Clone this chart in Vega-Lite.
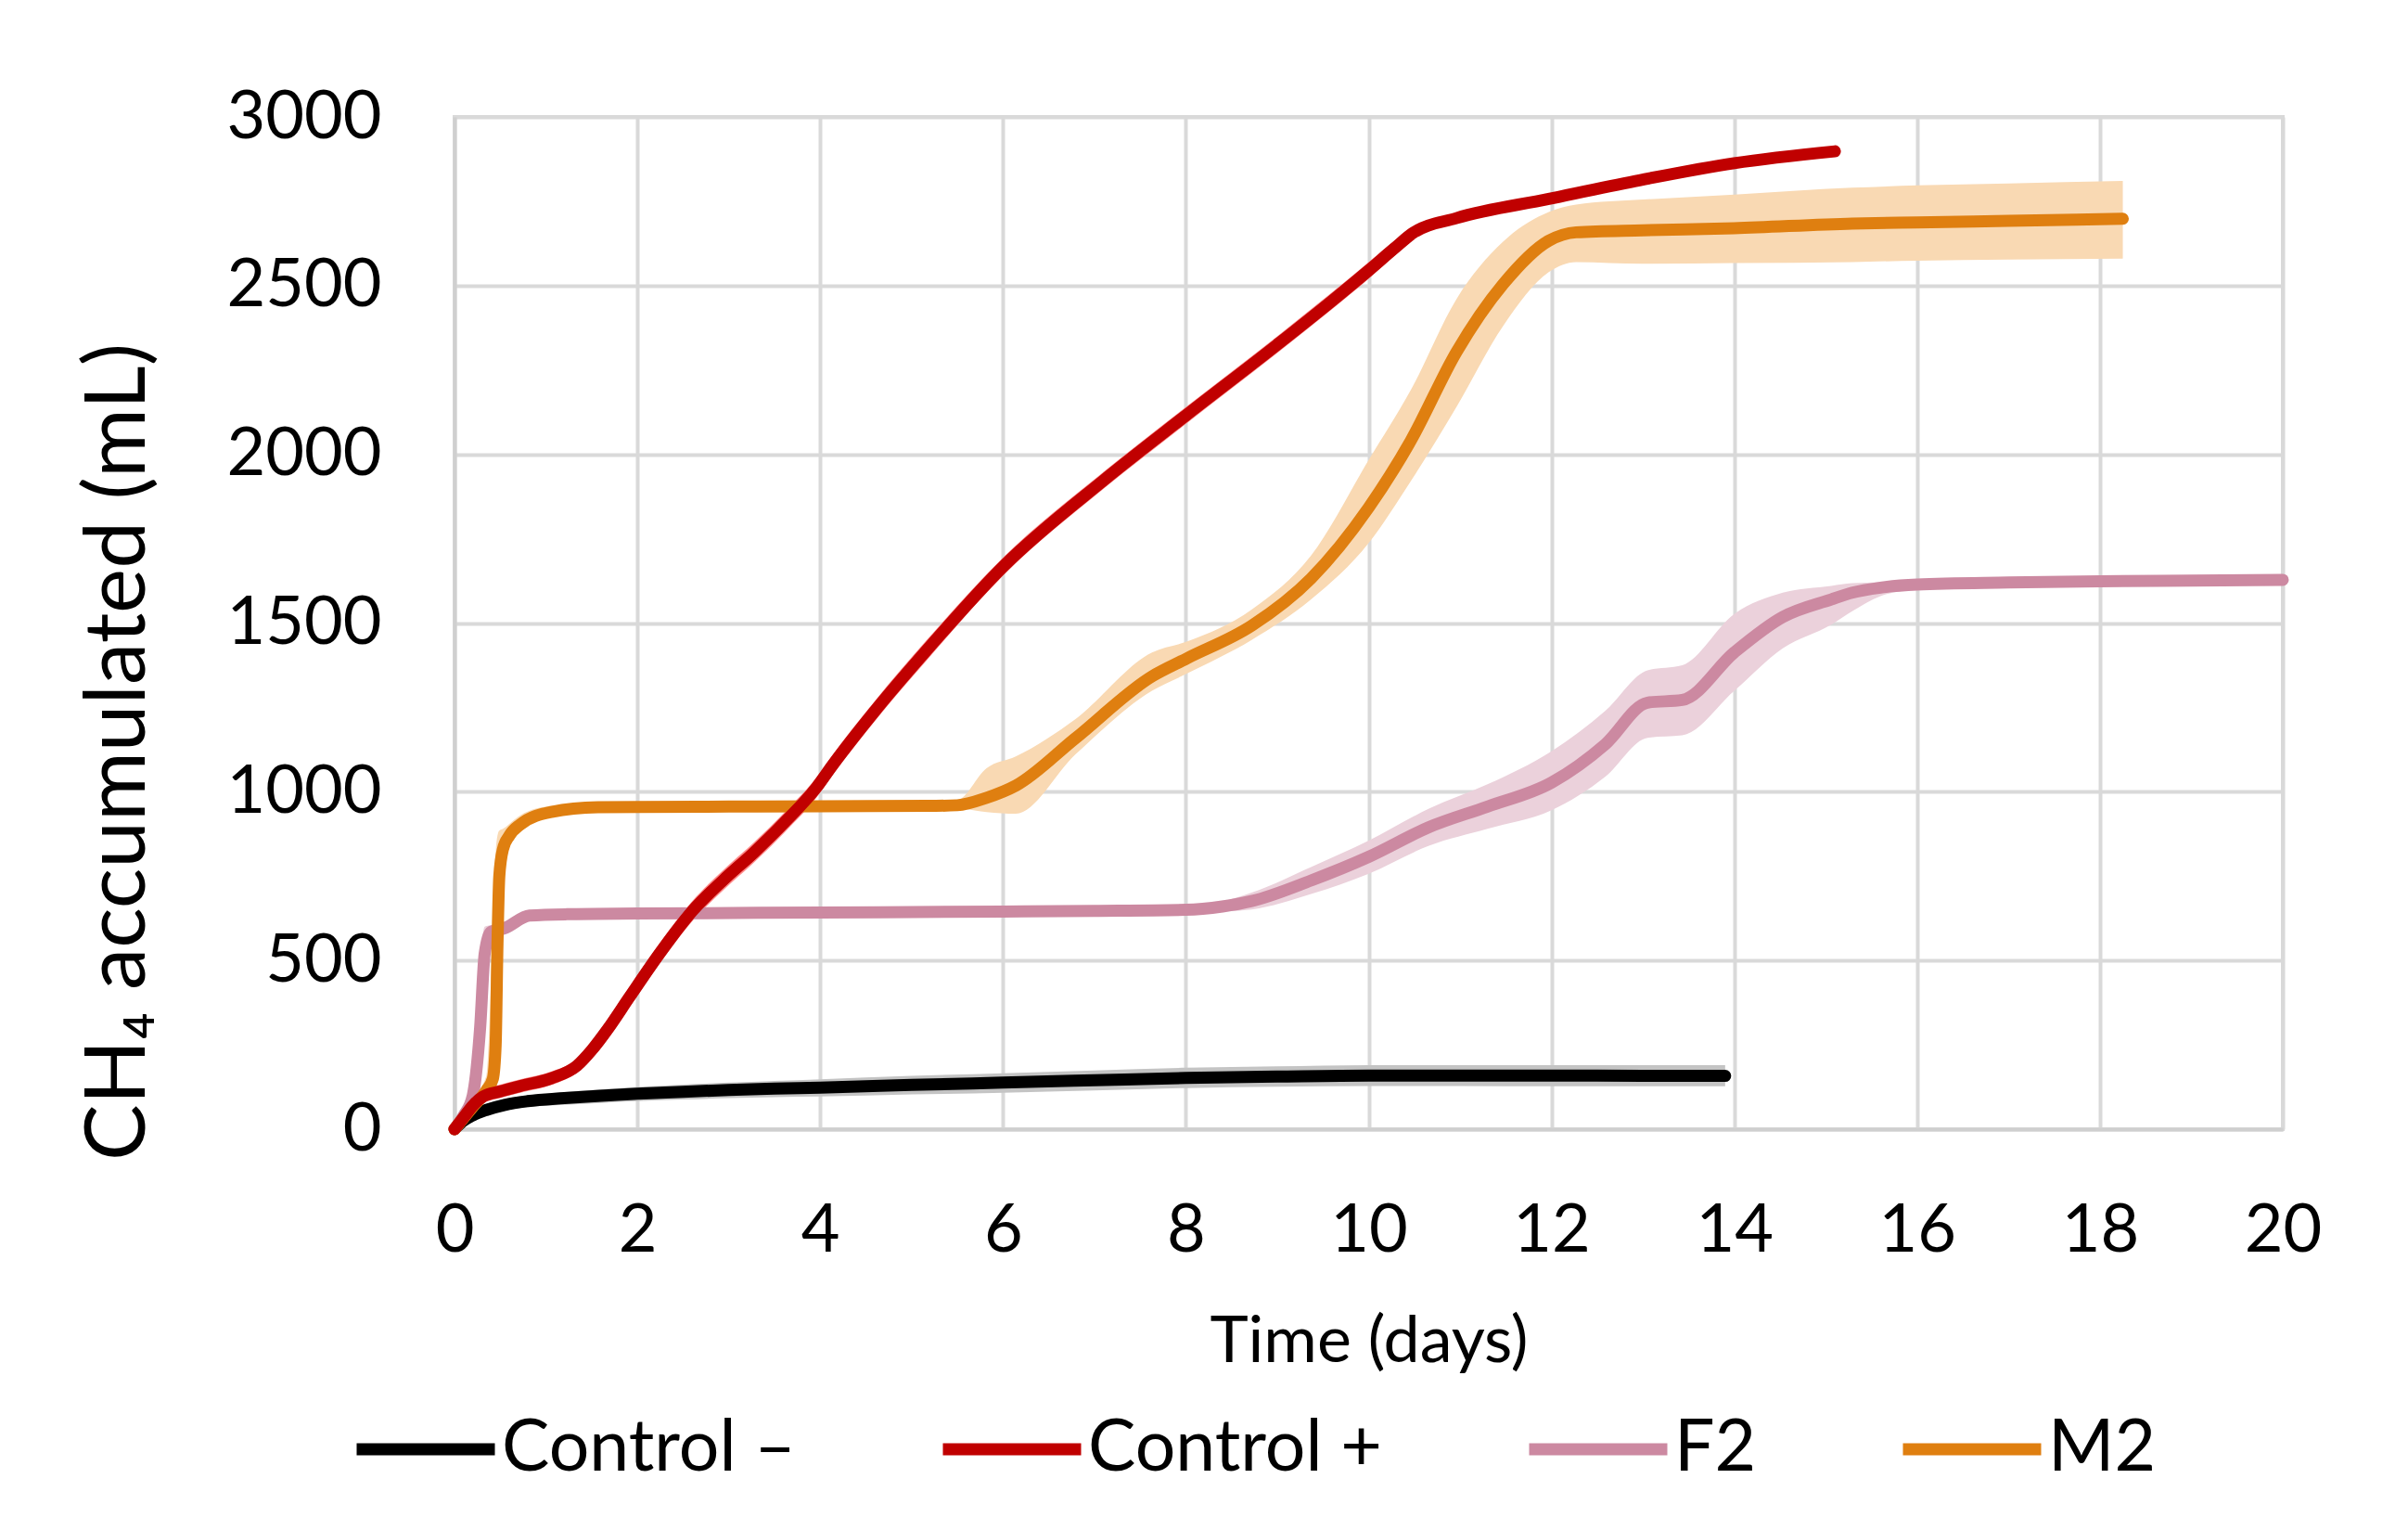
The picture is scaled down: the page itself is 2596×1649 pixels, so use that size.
{
  "$schema": "https://vega.github.io/schema/vega-lite/v6.json",
  "width": 1971,
  "height": 1091,
  "autosize": {"type": "none"},
  "padding": {"left": 490, "top": 126, "right": 135, "bottom": 432},
  "background": "white",
  "config": {
    "view": {"stroke": "#d9d9d9", "strokeWidth": 4},
    "font": "Lato"
  },
  "data": {
    "values": [
      {"s": "Control –", "t": 0, "v": 0, "lo": 0, "hi": 0},
      {"s": "Control –", "t": 0.1, "v": 25, "lo": 10, "hi": 35},
      {"s": "Control –", "t": 0.2, "v": 41, "lo": 25, "hi": 55},
      {"s": "Control –", "t": 0.35, "v": 57, "lo": 40, "hi": 75},
      {"s": "Control –", "t": 0.55, "v": 72, "lo": 55, "hi": 90},
      {"s": "Control –", "t": 0.8, "v": 83, "lo": 65, "hi": 100},
      {"s": "Control –", "t": 1.2, "v": 92, "lo": 72, "hi": 110},
      {"s": "Control –", "t": 1.6, "v": 99, "lo": 78, "hi": 118},
      {"s": "Control –", "t": 2, "v": 105, "lo": 83, "hi": 125},
      {"s": "Control –", "t": 2.5, "v": 111, "lo": 88, "hi": 132},
      {"s": "Control –", "t": 3, "v": 116, "lo": 92, "hi": 138},
      {"s": "Control –", "t": 3.5, "v": 120, "lo": 95, "hi": 143},
      {"s": "Control –", "t": 4, "v": 123, "lo": 97, "hi": 148},
      {"s": "Control –", "t": 5, "v": 131, "lo": 103, "hi": 158},
      {"s": "Control –", "t": 6, "v": 138, "lo": 108, "hi": 166},
      {"s": "Control –", "t": 7, "v": 145, "lo": 115, "hi": 174},
      {"s": "Control –", "t": 8, "v": 152, "lo": 122, "hi": 182},
      {"s": "Control –", "t": 9, "v": 156, "lo": 126, "hi": 186},
      {"s": "Control –", "t": 10, "v": 159, "lo": 128, "hi": 190},
      {"s": "Control –", "t": 11, "v": 159, "lo": 128, "hi": 190},
      {"s": "Control –", "t": 12, "v": 159, "lo": 127, "hi": 190},
      {"s": "Control –", "t": 13, "v": 158, "lo": 127, "hi": 190},
      {"s": "Control –", "t": 13.9, "v": 158, "lo": 127, "hi": 190},

      {"s": "F2", "t": 0, "v": 0, "lo": 0, "hi": 0},
      {"s": "F2", "t": 0.1, "v": 40, "lo": 20, "hi": 60},
      {"s": "F2", "t": 0.2, "v": 100, "lo": 60, "hi": 200},
      {"s": "F2", "t": 0.28, "v": 300, "lo": 150, "hi": 500},
      {"s": "F2", "t": 0.33, "v": 520, "lo": 400, "hi": 600},
      {"s": "F2", "t": 0.4, "v": 585, "lo": 560, "hi": 605},
      {"s": "F2", "t": 0.55, "v": 596, "lo": 585, "hi": 610},
      {"s": "F2", "t": 0.82, "v": 633, "lo": 625, "hi": 641},
      {"s": "F2", "t": 1.23, "v": 637, "lo": 629, "hi": 645},
      {"s": "F2", "t": 2, "v": 639, "lo": 631, "hi": 647},
      {"s": "F2", "t": 4, "v": 642, "lo": 634, "hi": 650},
      {"s": "F2", "t": 6, "v": 645, "lo": 637, "hi": 653},
      {"s": "F2", "t": 7, "v": 647, "lo": 639, "hi": 655},
      {"s": "F2", "t": 8, "v": 650, "lo": 640, "hi": 660},
      {"s": "F2", "t": 8.4, "v": 660, "lo": 645, "hi": 675},
      {"s": "F2", "t": 8.72, "v": 676, "lo": 651, "hi": 701},
      {"s": "F2", "t": 9.37, "v": 737, "lo": 697, "hi": 777},
      {"s": "F2", "t": 10, "v": 807, "lo": 757, "hi": 855},
      {"s": "F2", "t": 10.66, "v": 895, "lo": 840, "hi": 950},
      {"s": "F2", "t": 11.3, "v": 956, "lo": 890, "hi": 1022},
      {"s": "F2", "t": 12, "v": 1027, "lo": 945, "hi": 1120},
      {"s": "F2", "t": 12.59, "v": 1141, "lo": 1045, "hi": 1240},
      {"s": "F2", "t": 13.05, "v": 1264, "lo": 1160, "hi": 1360},
      {"s": "F2", "t": 13.43, "v": 1272, "lo": 1167, "hi": 1375},
      {"s": "F2", "t": 14, "v": 1413, "lo": 1299, "hi": 1527},
      {"s": "F2", "t": 14.53, "v": 1518, "lo": 1425, "hi": 1590},
      {"s": "F2", "t": 15.06, "v": 1570, "lo": 1495, "hi": 1610},
      {"s": "F2", "t": 15.29, "v": 1590, "lo": 1535, "hi": 1618},
      {"s": "F2", "t": 15.6, "v": 1605, "lo": 1580, "hi": 1621},
      {"s": "F2", "t": 16, "v": 1614, "lo": 1600, "hi": 1624},
      {"s": "F2", "t": 17, "v": 1620, "lo": 1610, "hi": 1628},
      {"s": "F2", "t": 18, "v": 1624, "lo": 1615, "hi": 1632},
      {"s": "F2", "t": 19, "v": 1626, "lo": 1618, "hi": 1634},
      {"s": "F2", "t": 20, "v": 1628, "lo": 1620, "hi": 1636},

      {"s": "M2", "t": 0, "v": 0, "lo": 0, "hi": 0},
      {"s": "M2", "t": 0.21, "v": 69, "lo": 45, "hi": 95},
      {"s": "M2", "t": 0.35, "v": 115, "lo": 90, "hi": 160},
      {"s": "M2", "t": 0.42, "v": 150, "lo": 120, "hi": 600},
      {"s": "M2", "t": 0.45, "v": 250, "lo": 170, "hi": 820},
      {"s": "M2", "t": 0.47, "v": 550, "lo": 400, "hi": 870},
      {"s": "M2", "t": 0.49, "v": 750, "lo": 650, "hi": 885},
      {"s": "M2", "t": 0.53, "v": 830, "lo": 790, "hi": 890},
      {"s": "M2", "t": 0.6, "v": 870, "lo": 840, "hi": 905},
      {"s": "M2", "t": 0.72, "v": 903, "lo": 880, "hi": 930},
      {"s": "M2", "t": 1.06, "v": 940, "lo": 925, "hi": 958},
      {"s": "M2", "t": 1.57, "v": 954, "lo": 944, "hi": 966},
      {"s": "M2", "t": 2, "v": 955, "lo": 945, "hi": 967},
      {"s": "M2", "t": 3, "v": 956, "lo": 946, "hi": 968},
      {"s": "M2", "t": 4, "v": 957, "lo": 947, "hi": 969},
      {"s": "M2", "t": 5.17, "v": 958, "lo": 948, "hi": 970},
      {"s": "M2", "t": 5.5, "v": 960, "lo": 950, "hi": 975},
      {"s": "M2", "t": 5.82, "v": 982, "lo": 940, "hi": 1070},
      {"s": "M2", "t": 6.14, "v": 1018, "lo": 935, "hi": 1105},
      {"s": "M2", "t": 6.79, "v": 1158, "lo": 1110, "hi": 1215},
      {"s": "M2", "t": 7.63, "v": 1342, "lo": 1299, "hi": 1413},
      {"s": "M2", "t": 8.01, "v": 1395, "lo": 1350, "hi": 1445},
      {"s": "M2", "t": 8.72, "v": 1492, "lo": 1450, "hi": 1540},
      {"s": "M2", "t": 9.37, "v": 1632, "lo": 1570, "hi": 1700},
      {"s": "M2", "t": 10, "v": 1842, "lo": 1737, "hi": 1983},
      {"s": "M2", "t": 10.46, "v": 2040, "lo": 1920, "hi": 2190},
      {"s": "M2", "t": 10.96, "v": 2303, "lo": 2140, "hi": 2460},
      {"s": "M2", "t": 11.47, "v": 2504, "lo": 2380, "hi": 2630},
      {"s": "M2", "t": 11.97, "v": 2633, "lo": 2540, "hi": 2718},
      {"s": "M2", "t": 12.27, "v": 2658, "lo": 2570, "hi": 2740},
      {"s": "M2", "t": 13, "v": 2664, "lo": 2565, "hi": 2755},
      {"s": "M2", "t": 14, "v": 2670, "lo": 2567, "hi": 2770},
      {"s": "M2", "t": 15.29, "v": 2684, "lo": 2570, "hi": 2790},
      {"s": "M2", "t": 16, "v": 2687, "lo": 2574, "hi": 2797},
      {"s": "M2", "t": 17, "v": 2692, "lo": 2577, "hi": 2803},
      {"s": "M2", "t": 18.25, "v": 2698, "lo": 2580, "hi": 2810},

      {"s": "Control +", "t": 0, "v": 0, "lo": 0, "hi": 0},
      {"s": "Control +", "t": 0.1, "v": 35, "lo": 15, "hi": 55},
      {"s": "Control +", "t": 0.2, "v": 70, "lo": 50, "hi": 90},
      {"s": "Control +", "t": 0.31, "v": 96, "lo": 76, "hi": 116},
      {"s": "Control +", "t": 0.5, "v": 112, "lo": 92, "hi": 132},
      {"s": "Control +", "t": 0.72, "v": 128, "lo": 108, "hi": 148},
      {"s": "Control +", "t": 1.06, "v": 151, "lo": 131, "hi": 171},
      {"s": "Control +", "t": 1.34, "v": 188, "lo": 168, "hi": 208},
      {"s": "Control +", "t": 1.5, "v": 234, "lo": 209, "hi": 259},
      {"s": "Control +", "t": 1.68, "v": 298, "lo": 268, "hi": 328},
      {"s": "Control +", "t": 1.91, "v": 390, "lo": 360, "hi": 420},
      {"s": "Control +", "t": 2.26, "v": 527, "lo": 497, "hi": 557},
      {"s": "Control +", "t": 2.6, "v": 646, "lo": 616, "hi": 676},
      {"s": "Control +", "t": 2.94, "v": 738, "lo": 708, "hi": 768},
      {"s": "Control +", "t": 3.28, "v": 821, "lo": 791, "hi": 851},
      {"s": "Control +", "t": 3.62, "v": 912, "lo": 882, "hi": 942},
      {"s": "Control +", "t": 3.96, "v": 1013, "lo": 983, "hi": 1043},
      {"s": "Control +", "t": 4.13, "v": 1077, "lo": 1047, "hi": 1107},
      {"s": "Control +", "t": 4.6, "v": 1240, "lo": 1210, "hi": 1270},
      {"s": "Control +", "t": 5.17, "v": 1421, "lo": 1391, "hi": 1451},
      {"s": "Control +", "t": 6, "v": 1667, "lo": 1640, "hi": 1694},
      {"s": "Control +", "t": 7.11, "v": 1925, "lo": 1900, "hi": 1950},
      {"s": "Control +", "t": 8, "v": 2115, "lo": 2090, "hi": 2140},
      {"s": "Control +", "t": 9, "v": 2325, "lo": 2300, "hi": 2350},
      {"s": "Control +", "t": 9.6, "v": 2455, "lo": 2430, "hi": 2480},
      {"s": "Control +", "t": 10, "v": 2545, "lo": 2520, "hi": 2570},
      {"s": "Control +", "t": 10.28, "v": 2610, "lo": 2588, "hi": 2632},
      {"s": "Control +", "t": 10.48, "v": 2655, "lo": 2637, "hi": 2673},
      {"s": "Control +", "t": 10.96, "v": 2700, "lo": 2686, "hi": 2714},
      {"s": "Control +", "t": 11.97, "v": 2757, "lo": 2745, "hi": 2769},
      {"s": "Control +", "t": 12.92, "v": 2810, "lo": 2798, "hi": 2822},
      {"s": "Control +", "t": 14, "v": 2863, "lo": 2851, "hi": 2875},
      {"s": "Control +", "t": 15.1, "v": 2898, "lo": 2886, "hi": 2910}
    ]
  },
  "encoding": {
    "x": {
      "field": "t",
      "type": "quantitative",
      "scale": {"domain": [0, 20], "nice": false},
      "axis": {
        "values": [0, 2, 4, 6, 8, 10, 12, 14, 16, 18, 20],
        "grid": true,
        "gridColor": "#d9d9d9",
        "gridWidth": 4,
        "domainColor": "#cfcfcf",
        "domainWidth": 4,
        "ticks": false,
        "labelFlush": false,
        "labelFont": "Lato",
        "labelFontSize": 72,
        "labelColor": "#000000",
        "labelPadding": 74,
        "title": "Time (days)",
        "titleFont": "Lato",
        "titleFontSize": 70,
        "titleFontWeight": "normal",
        "titleColor": "#000000",
        "titleBaseline": "alphabetic",
        "titleY": 250
      }
    },
    "y": {
      "field": "v",
      "type": "quantitative",
      "scale": {"domain": [0, 3000], "nice": false},
      "axis": {
        "values": [0, 500, 1000, 1500, 2000, 2500, 3000],
        "format": "d",
        "grid": true,
        "gridColor": "#d9d9d9",
        "gridWidth": 4,
        "domainColor": "#cfcfcf",
        "domainWidth": 4,
        "ticks": false,
        "labelFlush": false,
        "labelFont": "Lato",
        "labelFontSize": 72,
        "labelColor": "#000000",
        "labelPadding": 79,
        "title": "CH₄ accumulated (mL)",
        "titleFont": "Lato",
        "titleFontSize": 91,
        "titleFontWeight": "normal",
        "titleColor": "#000000",
        "titleAngle": 270,
        "titleAlign": "center",
        "titleBaseline": "alphabetic",
        "titleX": -335,
        "titleY": 684
      }
    }
  },
  "layer": [
    {
      "transform": [{"filter": "datum.s === 'Control –'"}],
      "mark": {"type": "area", "interpolate": "monotone", "color": "#c4c4c4"},
      "encoding": {"y": {"field": "lo", "type": "quantitative"}, "y2": {"field": "hi"}}
    },
    {
      "transform": [{"filter": "datum.s === 'Control +'"}],
      "mark": {"type": "area", "interpolate": "monotone", "color": "#ff8c8c"},
      "encoding": {"y": {"field": "lo", "type": "quantitative"}, "y2": {"field": "hi"}}
    },
    {
      "transform": [{"filter": "datum.s === 'F2'"}],
      "mark": {"type": "area", "interpolate": "monotone", "color": "#ebd1db"},
      "encoding": {"y": {"field": "lo", "type": "quantitative"}, "y2": {"field": "hi"}}
    },
    {
      "transform": [{"filter": "datum.s === 'M2'"}],
      "mark": {"type": "area", "interpolate": "monotone", "color": "#f9d9b3"},
      "encoding": {"y": {"field": "lo", "type": "quantitative"}, "y2": {"field": "hi"}}
    },
    {
      "mark": {"type": "line", "interpolate": "monotone", "strokeWidth": 13, "strokeCap": "round"},
      "encoding": {
        "stroke": {
          "field": "s",
          "type": "nominal",
          "scale": {
            "domain": ["Control –", "Control +", "F2", "M2"],
            "range": ["#000000", "#c00000", "#cc89a1", "#df7f10"]
          },
          "legend": {
            "title": null,
            "orient": "none",
            "direction": "horizontal",
            "legendX": -112,
            "legendY": 1355,
            "symbolType": "stroke",
            "symbolSize": 22201,
            "symbolStrokeWidth": 13,
            "labelFont": "Lato",
            "labelFontSize": 77,
            "labelColor": "#000000",
            "labelLimit": 500,
            "labelOffset": 1,
            "columnPadding": 131,
            "padding": 0
          }
        }
      }
    }
  ]
}
